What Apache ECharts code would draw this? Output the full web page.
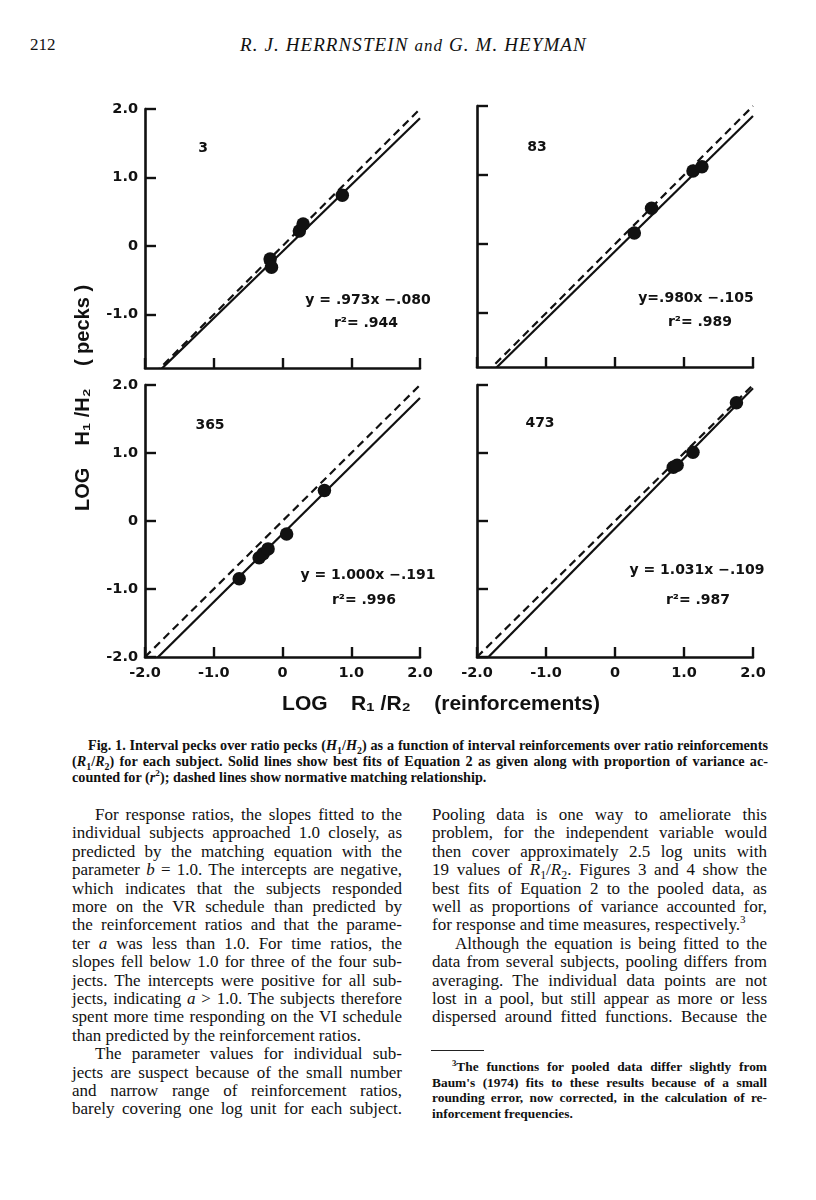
<!DOCTYPE html>
<html>
<head>
<meta charset="utf-8">
<script src="https://cdn.jsdelivr.net/npm/echarts@6/dist/echarts.min.js"></script>
<style>
  html, body { margin: 0; padding: 0; background: #fff; }
  body { width: 816px; height: 1200px; position: relative; overflow: hidden; color: #111; }
  #chart { position: absolute; left: 0; top: 0; width: 816px; height: 730px; z-index: 2; }
  .t { position: absolute; font-family: "Liberation Serif", serif; white-space: nowrap; }
  .ln { position: absolute; font-family: "Liberation Serif", serif; font-size: 17px; line-height: 18px; height: 18px; text-align: justify; text-align-last: justify; white-space: nowrap; }
  .ln.last { text-align-last: left; }
  .cap { position: absolute; font-family: "Liberation Serif", serif; font-weight: bold; font-size: 14.2px; line-height: 16px; height: 16px; text-align: justify; text-align-last: justify; white-space: nowrap; }
  .cap.last { text-align-last: left; }
  .fn { position: absolute; font-family: "Liberation Serif", serif; font-weight: bold; font-size: 13.4px; line-height: 15px; height: 15px; text-align: justify; text-align-last: justify; white-space: nowrap; }
  .fn.last { text-align-last: left; }
  sub { font-size: 70%; line-height: 0; }
  sup { font-size: 65%; line-height: 0; }
</style>
</head>
<body>
<div class="t" style="left:30px; top:35px; font-size:17px;">212</div>
<div class="t" style="left:240px; top:34px; font-size:19px; font-style:italic; letter-spacing:1.1px;">R. J. HERRNSTEIN <span style="font-size:17px">and</span> G. M. HEYMAN</div>

<div id="chart"></div>

<div class="cap" style="left:88px; top:737px; width:680px;">Fig. 1. Interval pecks over ratio pecks (<i>H</i><sub>1</sub>/<i>H</i><sub>2</sub>) as a function of interval reinforcements over ratio reinforcements</div>
<div class="cap" style="left:72px; top:753px; width:696px;">(<i>R</i><sub>1</sub>/<i>R</i><sub>2</sub>) for each subject. Solid lines show best fits of Equation 2 as given along with proportion of variance ac-</div>
<div class="cap last" style="left:72px; top:769px; width:696px;">counted for (<i>r</i><sup>2</sup>); dashed lines show normative matching relationship.</div>

<div class="ln" style="left:95px; top:806px; width:307px;">For response ratios, the slopes fitted to the</div>
<div class="ln" style="left:72px; top:824.4px; width:330px;">individual subjects approached 1.0 closely, as</div>
<div class="ln" style="left:72px; top:842.8px; width:330px;">predicted by the matching equation with the</div>
<div class="ln" style="left:72px; top:861.2px; width:330px;">parameter <i>b</i> = 1.0. The intercepts are negative,</div>
<div class="ln" style="left:72px; top:879.6px; width:330px;">which indicates that the subjects responded</div>
<div class="ln" style="left:72px; top:898px; width:330px;">more on the VR schedule than predicted by</div>
<div class="ln" style="left:72px; top:916.4px; width:330px;">the reinforcement ratios and that the parame-</div>
<div class="ln" style="left:72px; top:934.8px; width:330px;">ter <i>a</i> was less than 1.0. For time ratios, the</div>
<div class="ln" style="left:72px; top:953.2px; width:330px;">slopes fell below 1.0 for three of the four sub-</div>
<div class="ln" style="left:72px; top:971.6px; width:330px;">jects. The intercepts were positive for all sub-</div>
<div class="ln" style="left:72px; top:990px; width:330px;">jects, indicating <i>a</i> &gt; 1.0. The subjects therefore</div>
<div class="ln" style="left:72px; top:1008.4px; width:330px;">spent more time responding on the VI schedule</div>
<div class="ln last" style="left:72px; top:1026.8px; width:330px;">than predicted by the reinforcement ratios.</div>
<div class="ln" style="left:95px; top:1045.2px; width:307px;">The parameter values for individual sub-</div>
<div class="ln" style="left:72px; top:1063.6px; width:330px;">jects are suspect because of the small number</div>
<div class="ln" style="left:72px; top:1082px; width:330px;">and narrow range of reinforcement ratios,</div>
<div class="ln" style="left:72px; top:1100.4px; width:330px;">barely covering one log unit for each subject.</div>

<div class="ln" style="left:432px; top:806px; width:335px;">Pooling data is one way to ameliorate this</div>
<div class="ln" style="left:432px; top:824.4px; width:335px;">problem, for the independent variable would</div>
<div class="ln" style="left:432px; top:842.8px; width:335px;">then cover approximately 2.5 log units with</div>
<div class="ln" style="left:432px; top:861.2px; width:335px;">19 values of <i>R</i><sub>1</sub>/<i>R</i><sub>2</sub>. Figures 3 and 4 show the</div>
<div class="ln" style="left:432px; top:879.6px; width:335px;">best fits of Equation 2 to the pooled data, as</div>
<div class="ln" style="left:432px; top:898px; width:335px;">well as proportions of variance accounted for,</div>
<div class="ln last" style="left:432px; top:916.4px; width:335px;">for response and time measures, respectively.<sup>3</sup></div>
<div class="ln" style="left:455px; top:934.8px; width:312px;">Although the equation is being fitted to the</div>
<div class="ln" style="left:432px; top:953.2px; width:335px;">data from several subjects, pooling differs from</div>
<div class="ln" style="left:432px; top:971.6px; width:335px;">averaging. The individual data points are not</div>
<div class="ln" style="left:432px; top:990px; width:335px;">lost in a pool, but still appear as more or less</div>
<div class="ln" style="left:432px; top:1008.4px; width:335px;">dispersed around fitted functions. Because the</div>

<div style="position:absolute; left:431px; top:1050px; width:53px; height:1px; background:#222;"></div>
<div class="fn" style="left:452px; top:1059px; width:315px;"><sup>3</sup>The functions for pooled data differ slightly from</div>
<div class="fn" style="left:432px; top:1074.5px; width:335px;">Baum's (1974) fits to these results because of a small</div>
<div class="fn" style="left:432px; top:1090px; width:335px;">rounding error, now corrected, in the calculation of re-</div>
<div class="fn last" style="left:432px; top:1105.5px; width:335px;">inforcement frequencies.</div>

<script>
// ---- data ----
const subjects = ['3', '83', '365', '473'];
const slopes = [0.973, 0.980, 1.000, 1.031];
const intercepts = [-0.080, -0.105, -0.191, -0.109];
const r2Labels = ['.944', '.989', '.996', '.987'];
const slopeLabels = ['.973', '.980', '1.000', '1.031'];
const interceptLabels = ['.080', '.105', '.191', '.109'];

const s3X = [-0.18, -0.16, 0.245, 0.30, 0.87];
const s3Y = [-0.19, -0.31, 0.22, 0.32, 0.74];
const s83X = [0.28, 0.53, 1.13, 1.26];
const s83Y = [0.16, 0.52, 1.06, 1.12];
const s365X = [-0.63, -0.34, -0.28, -0.21, 0.06, 0.61];
const s365Y = [-0.85, -0.54, -0.48, -0.41, -0.19, 0.45];
const s473X = [0.845, 0.90, 1.13, 1.76];
const s473Y = [0.79, 0.82, 1.01, 1.74];

const xTicks = [-2, -1, 0, 1, 2];
const yTicksTop = [-1, 0, 1, 2];
const yTicksBottom = [-2, -1, 0, 1, 2];
const xRange = [-2, 2];
const yMinTop = -1.78;
const yMinBottom = -2;
const yMax = 2;

const ptsX = [s3X, s83X, s365X, s473X];
const ptsY = [s3Y, s83Y, s365Y, s473Y];

// ---- layout / style ----
const grids = [
  { left: 145, top: 109, width: 275, height: 259 },
  { left: 477, top: 106, width: 276, height: 261 },
  { left: 145, top: 385, width: 275, height: 272 },
  { left: 477, top: 385, width: 276, height: 272 }
];
const INK = '#111';
const labelFont = { fontFamily: 'DejaVu Sans', fontWeight: 'bold', fontSize: 14.5, color: INK };
const fmt = v => (v === 0 ? '0' : v.toFixed(1));

const xAxes = [], yAxes = [], series = [];
for (let i = 0; i < 4; i++) {
  const isBottom = i >= 2, isLeft = i % 2 === 0;
  const yTicks = isBottom ? yTicksBottom : yTicksTop;
  xAxes.push({
    type: 'value', gridIndex: i, min: xRange[0], max: xRange[1], interval: 1,
    axisLine: { show: true, onZero: false, lineStyle: { color: INK, width: 2.6 } },
    axisTick: { show: true, inside: true, length: 10, customValues: xTicks, lineStyle: { color: INK, width: 2.4 } },
    axisLabel: { show: isBottom, margin: 9, customValues: xTicks, formatter: fmt, ...labelFont },
    splitLine: { show: false }
  });
  yAxes.push({
    type: 'value', gridIndex: i, min: isBottom ? yMinBottom : yMinTop, max: yMax,
    axisLine: { show: true, onZero: false, lineStyle: { color: INK, width: 2.6 } },
    axisTick: { show: true, inside: true, length: 11, customValues: yTicks, lineStyle: { color: INK, width: 2.4 } },
    axisLabel: { show: isLeft, margin: 7, customValues: yTicks, formatter: fmt, ...labelFont },
    splitLine: { show: false }
  });
  // normative matching (dashed)
  series.push({
    type: 'line', xAxisIndex: i, yAxisIndex: i, symbol: 'none', clip: true, silent: true,
    data: xRange.map(x => [x, x]),
    lineStyle: { color: INK, width: 2.2, type: [8, 5] }, z: 2
  });
  // fitted equation (solid)
  series.push({
    type: 'line', xAxisIndex: i, yAxisIndex: i, symbol: 'none', clip: true, silent: true,
    data: xRange.map(x => [x, slopes[i] * x + intercepts[i]]),
    lineStyle: { color: INK, width: 2.2 }, z: 2
  });
  // data points
  series.push({
    type: 'scatter', xAxisIndex: i, yAxisIndex: i, symbol: 'circle', symbolSize: 13.5,
    data: ptsX[i].map((x, k) => [x, ptsY[i][k]]),
    itemStyle: { color: INK, opacity: 1 }, z: 3
  });
}

// annotation text positions (layout)
const subjPos = [[203, 148], [537, 147], [210, 425], [540, 423]];
const eqPos = [[368, 300], [696, 298], [368, 575], [697, 570]];
const r2Pos = [[366, 323], [700, 322], [364, 600], [698, 600]];
const eqSep = [' = ', '=', ' = ', ' = '];

const graphic = [];
const annFont = 'bold 14px "DejaVu Sans"';
for (let i = 0; i < 4; i++) {
  graphic.push({ type: 'text', x: subjPos[i][0], y: subjPos[i][1],
    style: { text: subjects[i], font: annFont, fill: INK, align: 'center', verticalAlign: 'middle' } });
  graphic.push({ type: 'text', x: eqPos[i][0], y: eqPos[i][1],
    style: { text: 'y' + eqSep[i] + slopeLabels[i] + 'x \u2212' + interceptLabels[i], font: annFont, fill: INK, align: 'center', verticalAlign: 'middle' } });
  graphic.push({ type: 'text', x: r2Pos[i][0], y: r2Pos[i][1],
    style: { text: 'r\u00B2= ' + r2Labels[i], font: annFont, fill: INK, align: 'center', verticalAlign: 'middle' } });
}
graphic.push({ type: 'text', x: 83, y: 398, rotation: Math.PI / 2,
  style: { text: 'LOG    H\u2081 /H\u2082    ( pecks )', font: 'bold 20px "Liberation Sans"', fill: INK, align: 'center', verticalAlign: 'middle' } });
graphic.push({ type: 'text', x: 441, y: 704,
  style: { text: 'LOG    R\u2081 /R\u2082    (reinforcements)', font: 'bold 21px "Liberation Sans"', fill: INK, align: 'center', verticalAlign: 'middle' } });

const chart = echarts.init(document.getElementById('chart'), null, { renderer: 'canvas' });
chart.setOption({
  animation: false,
  grid: grids.map(g => ({ ...g, containLabel: false })),
  xAxis: xAxes,
  yAxis: yAxes,
  series: series,
  graphic: graphic
});
</script>
</body>
</html>
